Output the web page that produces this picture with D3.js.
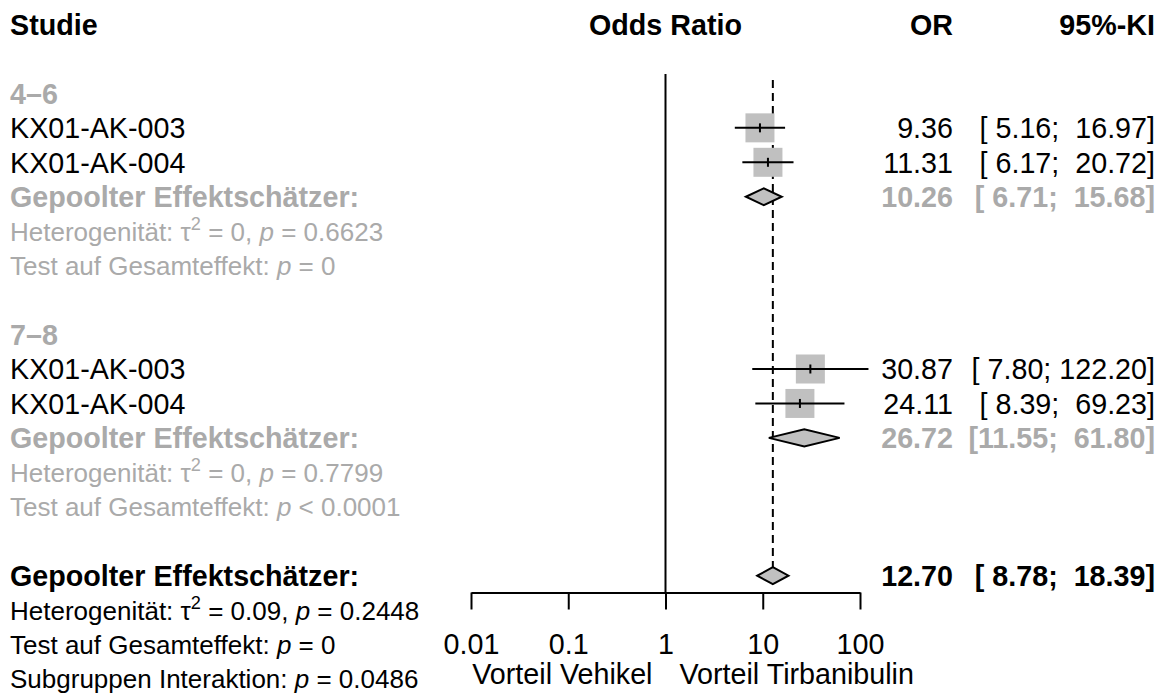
<!DOCTYPE html>
<html>
<head>
<meta charset="utf-8">
<script src="https://cdn.jsdelivr.net/npm/d3@7"></script>
<style>
  html, body { margin: 0; padding: 0; background: #fff; }
  svg text { font-family: "Liberation Sans", Arial, Helvetica, sans-serif; white-space: pre; }
</style>
</head>
<body>
<svg id="chart" width="1168" height="695"></svg>
<script>
// Subgroups and their studies
const subgroups = ["4–6", "7–8"];
const studyNames = [["KX01-AK-003", "KX01-AK-004"], ["KX01-AK-003", "KX01-AK-004"]];
const studyOR = [[9.36, 11.31], [30.87, 24.11]];
const studyLower = [[5.16, 6.17], [7.80, 8.39]];
const studyUpper = [[16.97, 20.72], [122.20, 69.23]];

// Pooled subgroup estimates
const poolOR = [10.26, 26.72];
const poolLower = [6.71, 11.55];
const poolUpper = [15.68, 61.80];
const poolTau2 = ["0", "0"];
const poolHetP = ["0.6623", "0.7799"];
const poolTestP = ["= 0", "< 0.0001"];

// Overall estimate
const overallOR = 12.70;
const overallLower = 8.78;
const overallUpper = 18.39;
const overallTau2 = "0.09";
const overallHetP = "0.2448";
const overallTestP = "= 0";
const interactionP = "0.0486";

// Axis
const tickValues = [0.01, 0.1, 1, 10, 100];
const labelLeft = "Vorteil Vehikel";
const labelRight = "Vorteil Tirbanibulin";

const svg = d3.select("#chart");
const BIG = 28.7, SMALL = 26;
const GREY_TEXT = "#aaaaaa", GREY_FILL = "#c0c0c0";

const x = d3.scaleLog().domain([0.01, 100]).range([471, 860]);
const row = d3.scaleLinear().domain([0, 19]).range([24.5, 24.5 + 19 * 34.45]);

const colLeft = 10, colOR = 953, colCI = 1155;

function fmt(v) { return v.toFixed(2); }
function ciText(lo, hi) {
  return "[" + fmt(lo).padStart(5, " ") + "; " + fmt(hi).padStart(6, " ") + "]";
}

function text(str, xPos, i, opts) {
  const o = Object.assign({ size: BIG, weight: "normal", fill: "#000", anchor: "start" }, opts || {});
  return svg.append("text")
    .attr("x", xPos)
    .attr("y", row(i) + o.size * 0.36)
    .attr("text-anchor", o.anchor)
    .attr("font-size", o.size)
    .attr("font-weight", o.weight)
    .attr("fill", o.fill)
    .text(str);
}

// heterogeneity line with tau superscript and italic p
function hetLine(i, tau2, p, fill) {
  const t = svg.append("text")
    .attr("x", colLeft).attr("y", row(i) + SMALL * 0.36)
    .attr("font-size", SMALL).attr("fill", fill);
  t.append("tspan").text("Heterogenität: τ");
  t.append("tspan").attr("font-size", SMALL * 0.7).attr("dy", -SMALL * 0.42).text("2");
  t.append("tspan").attr("dy", SMALL * 0.42).text(" = " + tau2 + ", ");
  t.append("tspan").attr("font-style", "italic").text("p");
  t.append("tspan").text(" = " + p);
}
function pLine(i, label, p, fill) {
  const t = svg.append("text")
    .attr("x", colLeft).attr("y", row(i) + SMALL * 0.36)
    .attr("font-size", SMALL).attr("fill", fill);
  t.append("tspan").text(label);
  t.append("tspan").attr("font-style", "italic").text("p");
  t.append("tspan").text(" " + p);
}

// Header row
text("Studie", colLeft, 0, { weight: "bold" });
text("Odds Ratio", (x.range()[0] + x.range()[1]) / 2, 0, { weight: "bold", anchor: "middle" });
text("OR", colOR, 0, { weight: "bold", anchor: "end" });
text("95%-KI", colCI, 0, { weight: "bold", anchor: "end" });

// Reference lines
svg.append("line")
  .attr("x1", x(1)).attr("x2", x(1))
  .attr("y1", 74).attr("y2", 592.5)
  .attr("stroke", "#000").attr("stroke-width", 2);
svg.append("line")
  .attr("x1", x(overallOR)).attr("x2", x(overallOR))
  .attr("y1", 80).attr("y2", 583)
  .attr("stroke", "#000").attr("stroke-width", 2)
  .attr("stroke-dasharray", "8,5");

const SQ = 29, DH = 8.5;

function studyRow(i, name, or, lo, hi) {
  text(name, colLeft, i);
  const cy = row(i);
  svg.append("rect")
    .attr("x", x(or) - SQ / 2).attr("y", cy - SQ / 2)
    .attr("width", SQ).attr("height", SQ)
    .attr("fill", GREY_FILL);
  svg.append("line")
    .attr("x1", x(lo)).attr("x2", x(hi)).attr("y1", cy).attr("y2", cy)
    .attr("stroke", "#000").attr("stroke-width", 2);
  svg.append("line")
    .attr("x1", x(or)).attr("x2", x(or)).attr("y1", cy - 4.5).attr("y2", cy + 4.5)
    .attr("stroke", "#000").attr("stroke-width", 2);
  text(fmt(or), colOR, i, { anchor: "end" });
  text(ciText(lo, hi), colCI, i, { anchor: "end" });
}

function diamond(i, or, lo, hi) {
  const cy = row(i);
  const pts = [[x(lo), cy], [x(or), cy - DH], [x(hi), cy], [x(or), cy + DH]];
  svg.append("path")
    .attr("d", d3.line()(pts) + "Z")
    .attr("fill", GREY_FILL).attr("stroke", "#000").attr("stroke-width", 2)
    .attr("stroke-linejoin", "miter");
}

subgroups.forEach((g, k) => {
  const base = 2 + k * 7;
  text(g, colLeft, base, { weight: "bold", fill: GREY_TEXT });
  studyNames[k].forEach((name, j) => {
    studyRow(base + 1 + j, name, studyOR[k][j], studyLower[k][j], studyUpper[k][j]);
  });
  const pi = base + 3;
  text("Gepoolter Effektschätzer:", colLeft, pi, { weight: "bold", fill: GREY_TEXT });
  diamond(pi, poolOR[k], poolLower[k], poolUpper[k]);
  text(fmt(poolOR[k]), colOR, pi, { weight: "bold", fill: GREY_TEXT, anchor: "end" });
  text(ciText(poolLower[k], poolUpper[k]), colCI, pi, { weight: "bold", fill: GREY_TEXT, anchor: "end" });
  hetLine(base + 4, poolTau2[k], poolHetP[k], GREY_TEXT);
  pLine(base + 5, "Test auf Gesamteffekt: ", poolTestP[k], GREY_TEXT);
});

// Overall
text("Gepoolter Effektschätzer:", colLeft, 16, { weight: "bold" });
diamond(16, overallOR, overallLower, overallUpper);
text(fmt(overallOR), colOR, 16, { weight: "bold", anchor: "end" });
text(ciText(overallLower, overallUpper), colCI, 16, { weight: "bold", anchor: "end" });
hetLine(17, overallTau2, overallHetP, "#000");
pLine(18, "Test auf Gesamteffekt: ", overallTestP, "#000");
pLine(19, "Subgruppen Interaktion: ", "= " + interactionP, "#000");

// Axis
const axisY = 592.5;
const axis = svg.append("g")
  .attr("transform", `translate(0,${axisY})`)
  .call(d3.axisBottom(x).tickValues(tickValues).tickFormat(d => String(d))
    .tickSize(17).tickSizeOuter(0).tickPadding(24));
axis.select(".domain").attr("stroke-width", 2);
axis.selectAll(".tick line").attr("stroke-width", 2);
axis.selectAll(".tick text")
  .attr("font-size", BIG)
  .attr("font-family", "'Liberation Sans', Arial, sans-serif");

svg.append("text")
  .attr("x", x(1) - 13).attr("y", 684)
  .attr("text-anchor", "end").attr("font-size", BIG)
  .text(labelLeft);
svg.append("text")
  .attr("x", x(1) + 14).attr("y", 684)
  .attr("text-anchor", "start").attr("font-size", BIG)
  .text(labelRight);
</script>
</body>
</html>
